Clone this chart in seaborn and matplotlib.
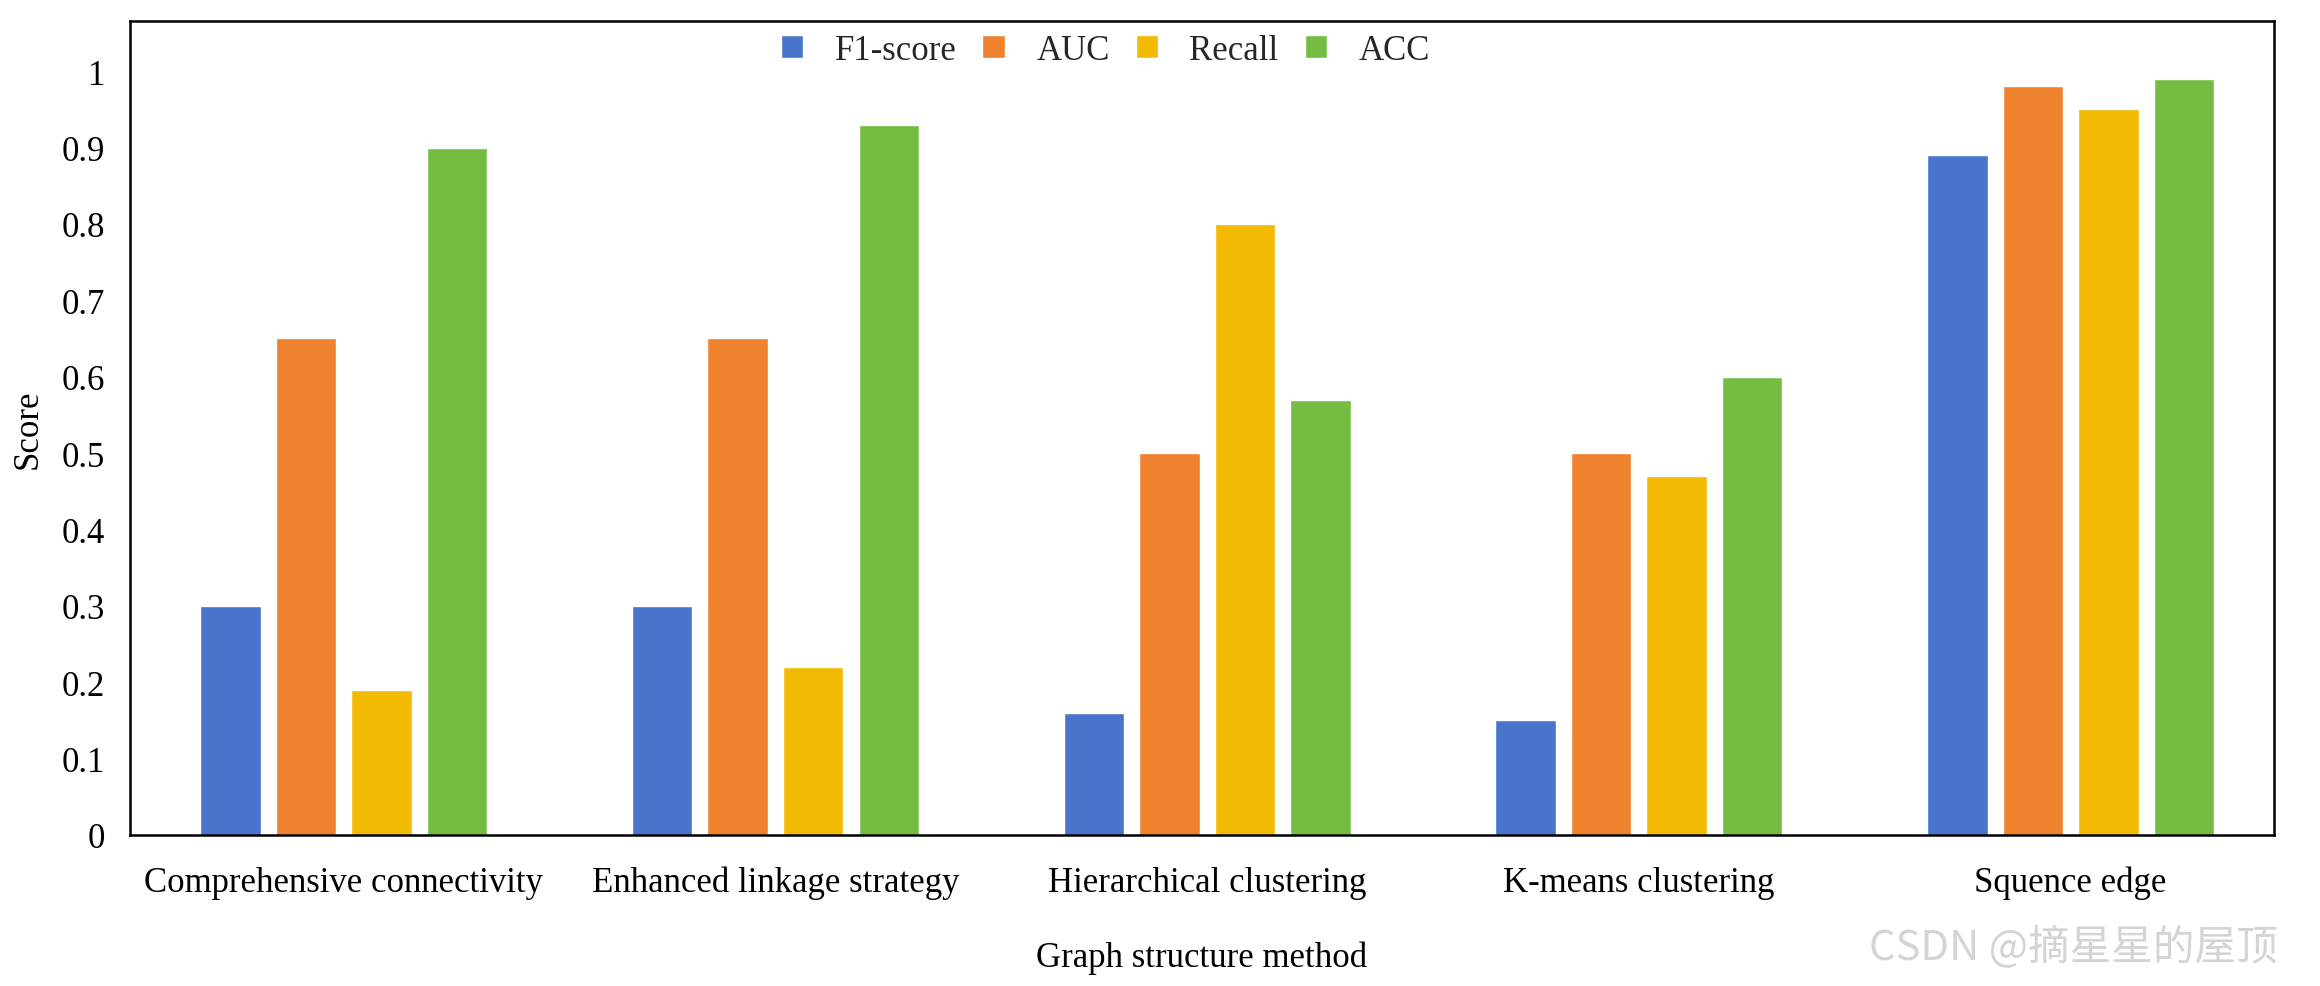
import numpy as np
import pandas as pd
import seaborn as sns
import matplotlib.pyplot as plt

methods = ['Comprehensive connectivity', 'Enhanced linkage strategy',
           'Hierarchical clustering', 'K-means clustering', 'Squence edge']
metrics = ['F1-score', 'AUC', 'Recall', 'ACC']
f1 = [0.30, 0.30, 0.16, 0.15, 0.89]
auc = [0.65, 0.65, 0.50, 0.50, 0.98]
recall = [0.19, 0.22, 0.80, 0.47, 0.95]
acc = [0.90, 0.93, 0.57, 0.60, 0.99]
colors = ['#4874CB', '#EE822F', '#F2BA02', '#75BD42']


def main():
  sns.set_theme(style='white')
  plt.rcParams['font.family'] = ['Liberation Serif', 'DejaVu Serif']

  rows = []
  for name, vals in zip(metrics, [f1, auc, recall, acc]):
    for m, v in zip(methods, vals):
      rows.append({'method': m, 'metric': name, 'score': v})
  df = pd.DataFrame(rows)

  fig = plt.figure(figsize=(23.2, 9.87), dpi=100)
  ax = fig.add_axes([0.056, 0.153, 0.924, 0.825])
  sns.barplot(data=df, x='method', y='score', hue='metric', order=methods,
              hue_order=metrics, palette=colors, width=0.7, gap=0.2,
              saturation=1, ax=ax)

  ax.set_ylim(0, 1.066)
  ax.set_xlim(-0.495, 4.47)
  ax.set_yticks(np.arange(0, 1.01, 0.1))
  ax.set_yticklabels(['0', '0.1', '0.2', '0.3', '0.4', '0.5', '0.6', '0.7', '0.8', '0.9', '1'])
  ax.tick_params(axis='both', length=0, labelsize=25, colors='black')
  ax.tick_params(axis='y', pad=18)
  ax.tick_params(axis='x', pad=22)
  for s in ax.spines.values():
    s.set_color('black')
    s.set_linewidth(1.8)

  ax.set_xlabel('Graph structure method', fontsize=25, labelpad=30, color='black')
  ax.set_ylabel('Score', fontsize=25, labelpad=12, color='black')

  leg = ax.legend(loc='upper center', bbox_to_anchor=(0.455, 1.005), ncol=4, frameon=False,
                  fontsize=25, handlelength=0.65, handleheight=0.65, handletextpad=0.9,
                  columnspacing=0.75, borderaxespad=0.1)

  fig.text(0.982, 0.04, 'CSDN @摘星星的屋顶', ha='right', va='center', fontsize=30,
           color='#d4d4d4', family=['Noto Sans CJK SC', 'DejaVu Sans'])

  plt.savefig('out.png', dpi=100)


if __name__ == '__main__':
  main()
